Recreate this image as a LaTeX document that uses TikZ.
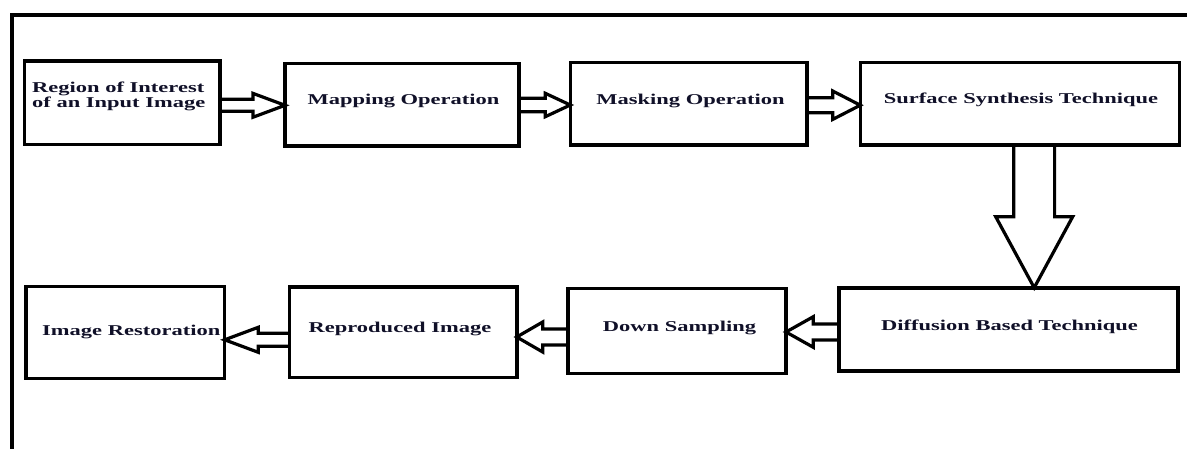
\documentclass[tikz,border=0pt]{standalone}
\usepackage{fontspec}
\setmainfont{Liberation Serif}
\usetikzlibrary{calc}
\definecolor{ink}{RGB}{16,16,40}

% horizontally widened label text
\newcommand\wide[1]{\scalebox{1.5}[1]{#1}}

% hollow block arrow: #1 start, #2 tip, #3 shaft half width, #4 head half width, #5 head length
\newcommand\hollowarrow[5]{%
  \coordinate (hb) at ($(#2)!#5!(#1)$);
  \draw[harrow] ($(#1)!#3!-90:(#2)$) -- ($(hb)!#3!90:(#1)$) -- ($(hb)!#4!90:(#1)$)
    -- (#2) -- ($(hb)!#4!-90:(#1)$) -- ($(hb)!#3!-90:(#1)$) -- ($(#1)!#3!90:(#2)$);
}

\begin{document}
\begin{tikzpicture}[x=1pt,y=-1pt,
  blk/.style={draw=black, line width=3.6pt, fill=white, inner sep=0pt, outer sep=0pt},
  lbl/.style={inner sep=0pt, text=ink, font=\fontsize{15}{14}\selectfont\bfseries},
  harrow/.style={draw=black, line width=3.2pt, line join=miter},
  frame/.style={draw=black, line width=3.6pt}]
\useasboundingbox (0,0) rectangle (1187,448);

% open frame along the top and left
\draw[frame] (1190,15) -- (12,15) -- (12,451);

% blocks, top row
\node[blk, minimum width=195.5pt, minimum height=83.5pt] (b1) at (122.3,102.8) {};
\node[blk, minimum width=233.7pt, minimum height=82.7pt] (b2) at (401.9,104.7) {};
\node[blk, minimum width=236.4pt, minimum height=82.7pt] (b3) at (688.5,103.7) {};
\node[blk, minimum width=319pt,   minimum height=82.7pt] (b4) at (1019.8,103.7) {};
% blocks, bottom row
\node[blk, minimum width=339pt,   minimum height=83pt]   (b5) at (1008.2,329.2) {};
\node[blk, minimum width=218pt,   minimum height=85pt]   (b6) at (677,330.8) {};
\node[blk, minimum width=227.4pt, minimum height=90.3pt] (b7) at (403,332.2) {};
\node[blk, minimum width=198.7pt, minimum height=92pt]   (b8) at (125.3,332.3) {};

% labels
\node[lbl, anchor=base west] (t1) at (32,92.7)
  {\wide{\begin{tabular}[t]{@{}l@{}}Region of Interest\\of an Input Image\end{tabular}}};
\node[lbl, anchor=base] (t2) at (403.5,104.2) {\wide{Mapping Operation}};
\node[lbl, anchor=base] (t3) at (690.5,104) {\wide{Masking Operation}};
\node[lbl, anchor=base] (t4) at (1021,103.3) {\wide{Surface Synthesis Technique}};
\node[lbl, anchor=base] (t5) at (1009.5,330) {\wide{Diffusion Based Technique}};
\node[lbl, anchor=base] (t6) at (679.5,331) {\wide{Down Sampling}};
\node[lbl, anchor=base] (t7) at (400,332.7) {\wide{Reproduced Image}};
\node[lbl, anchor=base west] (t8) at (42,335.7) {\wide{Image Restoration}};

% arrow end points on the block borders
\coordinate (r1s) at (b1.east |- 0,105.3);  \coordinate (r1t) at (b2.west |- 0,105.3);
\coordinate (r2s) at (b2.east |- 0,105);    \coordinate (r2t) at (b3.west |- 0,105);
\coordinate (r3s) at (b3.east |- 0,105.2);  \coordinate (r3t) at (b4.west |- 0,105.2);
\coordinate (ds)  at (b4.south -| 1034.2,0); \coordinate (dt) at (b5.north -| 1034.2,0);
\coordinate (l1s) at (b5.west |- 0,332);    \coordinate (l1t) at (b6.east |- 0,332);
\coordinate (l2s) at (b6.west |- 0,337);    \coordinate (l2t) at (b7.east |- 0,337);
\coordinate (l3s) at (b7.west |- 0,339.8);  \coordinate (l3t) at (b8.east |- 0,339.8);

% flow arrows
\hollowarrow{r1s}{r1t}{6pt}{11.9pt}{32pt}
\hollowarrow{r2s}{r2t}{6.7pt}{11.7pt}{25pt}
\hollowarrow{r3s}{r3t}{7.5pt}{14.2pt}{27.6pt}
\hollowarrow{ds}{dt}{20.4pt}{38.5pt}{71pt}
\hollowarrow{l1s}{l1t}{8pt}{15.3pt}{27.3pt}
\hollowarrow{l2s}{l2t}{8pt}{15pt}{26pt}
\hollowarrow{l3s}{l3t}{6.5pt}{12.5pt}{33.6pt}
\end{tikzpicture}
\end{document}
